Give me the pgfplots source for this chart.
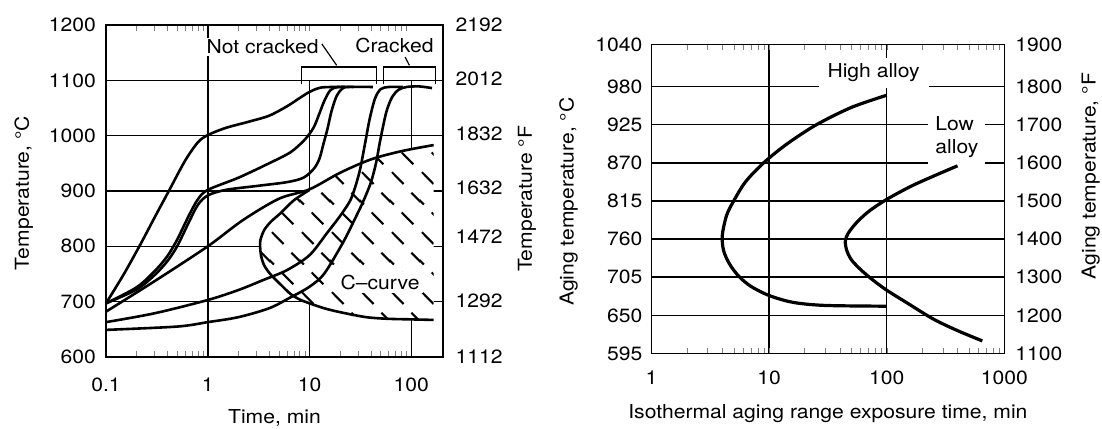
\documentclass[border=0pt]{standalone}
\usepackage{fontspec}
\setmainfont{TeX Gyre Heros}[FakeStretch=1.1]
\usepackage{pgfplots}
\pgfplotsset{compat=1.18}
\usetikzlibrary{patterns}

\pgfdeclarepatternformonly{chatch}{\pgfqpoint{0pt}{0pt}}{\pgfqpoint{15pt}{30pt}}{\pgfqpoint{15pt}{30pt}}{%
  \pgfsetlinewidth{1.05pt}%
  \pgfpathmoveto{\pgfqpoint{1pt}{8pt}}\pgfpathlineto{\pgfqpoint{7pt}{2pt}}%
  \pgfpathmoveto{\pgfqpoint{6pt}{18pt}}\pgfpathlineto{\pgfqpoint{12pt}{12pt}}%
  \pgfpathmoveto{\pgfqpoint{11pt}{28pt}}\pgfpathlineto{\pgfqpoint{17pt}{22pt}}%
  \pgfpathmoveto{\pgfqpoint{-4pt}{28pt}}\pgfpathlineto{\pgfqpoint{2pt}{22pt}}%
  \pgfusepath{stroke}%
}

\pgfplotsset{
  common/.style={scale only axis, major tick length=0pt,
    axis line style={line width=0.8pt}, clip=false,
    /pgf/number format/assume math mode=true},
}

\begin{document}
\begin{tikzpicture}[font=\fontsize{9.6}{11.5}\selectfont]
\useasboundingbox (0,0) rectangle (551pt,214pt);

% ---------------- left chart ----------------
\begin{axis}[common,
  at={(53pt,35.5pt)}, anchor=south west, width=168.5pt, height=166pt,
  xmode=log, xmin=0.1, xmax=205, ymin=600, ymax=1200,
  xtick={0.1,1,10,100}, xticklabels={0.1,1,10,100},
  ytick={600,700,800,900,1000,1100,1200},
  yticklabels={600,700,800,900,1000,1100,1200},
  ymajorgrids=true, major grid style={line width=0.75pt, black},
  xticklabel style={yshift=-6.7pt}, yticklabel style={xshift=-1.5pt},
  xlabel={Time, min}, xlabel style={at={(axis description cs:0.5,-0.1988)}, anchor=base},
  ylabel={Temperature, °C}, ylabel style={at={(axis description cs:-0.229,0.494)}, anchor=base},
]
\draw[line width=0.75pt] (axis cs:1,600) -- (axis cs:1,1200);
\draw[line width=0.75pt] (axis cs:10,600) -- (axis cs:10,1100);
\draw[line width=0.75pt] (axis cs:100,600) -- (axis cs:100,1100);

% C-curve region: white fill with dashed hatching
\addplot[draw=none, fill=white, smooth, postaction={pattern=chatch}] coordinates {
 (166,983) (80,972) (40,957) (20,933) (10,903)
 (7,883) (5.2,860) (4.2,845) (3.6,830) (3.3,812) (3.27,800) (3.35,782) (3.6,765)
 (4.2,748) (5.2,731) (6.5,714) (8,704) (10,697) (14,688) (20,681) (36,672)
 (60,669) (100,668) (166,667)};

\node[fill=white, inner sep=1.5pt] at (axis cs:49.4,735) {C–curve};

% curve A
\addplot[smooth, line width=1.3pt] coordinates {
 (0.1,697) (0.15,750) (0.22,805) (0.3,852) (0.42,902) (0.6,955) (0.8,988) (1,1001)
 (1.5,1014) (2.5,1025) (4,1036) (6,1053) (8,1068) (10,1079) (13,1087) (20,1088)};
% curve B1
\addplot[smooth, line width=1.3pt] coordinates {
 (0.1,697) (0.2,726) (0.3,755) (0.4,782) (0.5,812) (0.65,855) (0.8,885) (1,902)
 (2,924) (4,950) (6.5,970) (9,993) (11,1015) (12.5,1040) (14,1063) (16,1082)
 (19,1088) (27,1088)};
% curve B2
\addplot[smooth, line width=1.3pt] coordinates {
 (0.1,697) (0.2,722) (0.3,748) (0.4,773) (0.5,800) (0.65,843) (0.8,875) (1,892)
 (1.5,902) (3,909) (6,916) (8.7,924) (11,940) (12.5,958) (13.7,985) (15,1012)
 (16.5,1045) (18.5,1072) (21,1085) (24,1088) (42,1088)};
% curve C
\addplot[smooth, line width=1.3pt] coordinates {
 (0.1,682) (0.3,737) (1,800) (2.2,847) (5,886) (10,903) (20,933) (40,957)
 (80,972) (166,983)};
% curve D
\addplot[smooth, line width=1.3pt] coordinates {
 (0.1,663) (0.3,679) (1,703) (2,721) (3.5,739) (6,757) (10,784) (15,825)
 (20,855) (25,882) (28,906) (31.4,939) (35,984) (39,1030) (44,1067) (50,1084)
 (60,1088) (83,1088)};
% curve E
\addplot[smooth, line width=1.3pt] coordinates {
 (0.1,649) (0.5,655) (1,663) (2,672) (4,688) (6.4,707) (10,727) (14,751)
 (21.5,808) (28,850) (33.5,880) (40,915) (45,950) (49,987) (54,1025) (58,1048)
 (65,1070) (75,1083) (90,1088) (120,1089) (160,1086)};
% C-curve boundary
\addplot[smooth, line width=1.3pt] coordinates {
 (10,902) (7,883) (5.2,860) (4.2,845) (3.6,830) (3.3,812) (3.27,800) (3.35,782)
 (3.6,765) (4.2,748) (5.2,731) (6.5,714) (8,704) (10,697) (14,688) (20,681)
 (36,672) (60,669) (100,668) (166,667)};

% brackets and labels
\draw[line width=0.6pt] (axis cs:8.4,1094) |- (axis cs:45.2,1124) -- (axis cs:45.2,1094);
\draw[line width=0.6pt] (axis cs:53.3,1094) |- (axis cs:172,1124) -- (axis cs:172,1094);
\draw[line width=0.6pt] (axis cs:13.2,1166) -- (axis cs:18.5,1127);
\draw[line width=0.6pt] (axis cs:87.1,1142) -- (axis cs:95.9,1127);
\node[fill=white, inner sep=1pt] at (axis cs:3.46,1160) {Not cracked};
\node[fill=white, inner sep=1pt] at (axis cs:68.3,1163) {Cracked};
\end{axis}

\begin{axis}[common,
  at={(53pt,35.5pt)}, anchor=south west, width=168.5pt, height=166pt,
  xmin=0, xmax=1, ymin=600, ymax=1200,
  axis x line=none, axis y line*=right,
  ytick={600,702,817,906,1004,1103,1200},
  yticklabels={1112,1292,1472,1632,1832,2012,2192},
  yticklabel style={xshift=2.8pt},
  ylabel={Temperature °F}, ylabel style={at={(axis description cs:1.264,0.476)}, anchor=base},
]
\end{axis}

% ---------------- right chart ----------------
\begin{axis}[common,
  at={(325.75pt,37.25pt)}, anchor=south west, width=176.4pt, height=154.5pt,
  xmode=log, xmin=1, xmax=1000, ymin=1100, ymax=1910,
  xtick={1,10,100,1000}, xticklabels={1,10,100,1000},
  ytick={1100,1200,1300,1400,1500,1600,1700,1800,1910},
  yticklabels={595,650,705,760,815,870,925,980,1040},
  grid=major, major grid style={line width=0.75pt, black},
  xticklabel style={yshift=-5pt}, yticklabel style={xshift=-1pt},
  xlabel={Isothermal aging range exposure time, min},
  xlabel style={at={(axis description cs:0.5,-0.2113)}, anchor=base},
  ylabel={Aging temperature, °C},
  ylabel style={at={(axis description cs:-0.221,0.4916)}, anchor=base},
]
\addplot[smooth, line width=1.6pt] coordinates {
 (100,1777) (50,1745) (25,1699) (14,1648) (9,1600) (6.3,1550) (5,1500) (4.35,1462)
 (4.0,1410) (4.1,1370) (4.6,1335) (5.5,1303) (7,1276) (10,1252) (16,1234)
 (30,1226) (100,1224)};
\addplot[smooth, line width=1.6pt] coordinates {
 (400,1592) (250,1565) (160,1538) (100,1504) (70,1472) (55,1442) (47,1415)
 (44.5,1395) (45.5,1372) (50,1346) (60,1320) (76,1293) (100,1266) (150,1232)
 (250,1190) (400,1160) (650,1133)};
\node[fill=white, anchor=west, inner xsep=4.5pt, inner ysep=3pt] at (axis cs:26.1,1836) {High alloy};
\node[fill=white, anchor=west, align=left, inner xsep=3.5pt, inner ysep=3.5pt] at (axis cs:224.6,1668.5) {Low\\alloy};
\end{axis}

\begin{axis}[common,
  at={(325.75pt,37.25pt)}, anchor=south west, width=176.4pt, height=154.5pt,
  xmin=0, xmax=1, ymin=1100, ymax=1910,
  axis x line=none, axis y line*=right,
  ytick={1100,1200,1300,1400,1500,1600,1700,1800,1910},
  yticklabels={1100,1200,1300,1400,1500,1600,1700,1800,1900},
  yticklabel style={xshift=2pt},
  ylabel={Aging temperature, °F},
  ylabel style={at={(axis description cs:1.2585,0.5744)}, anchor=base},
]
\end{axis}
\end{tikzpicture}
\end{document}
